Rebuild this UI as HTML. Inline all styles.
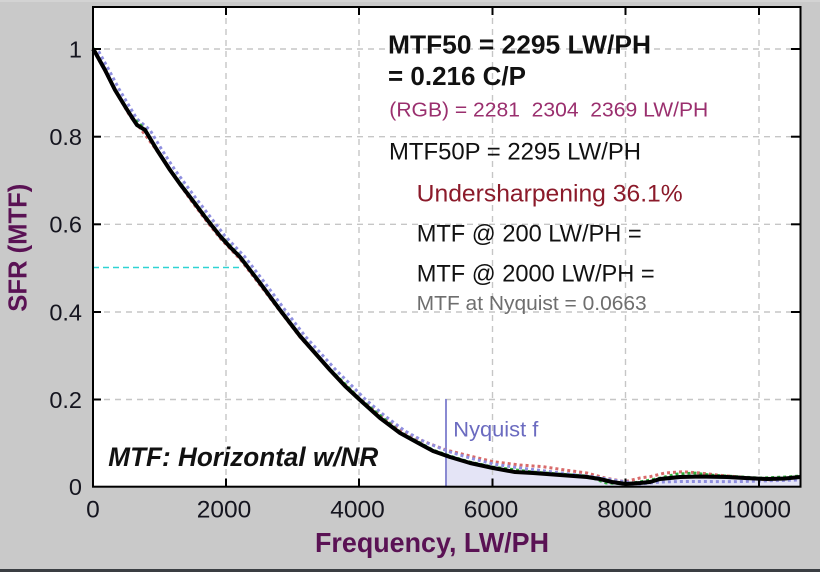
<!DOCTYPE html>
<html>
<head>
<meta charset="utf-8">
<style>
  html, body { margin: 0; padding: 0; }
  body { width: 820px; height: 572px; overflow: hidden; background: #c9c9c9; }
  svg { display: block; }
  text { font-family: "Liberation Sans", Arial, sans-serif; }
</style>
</head>
<body>
<svg width="820" height="572" viewBox="0 0 820 572" xmlns="http://www.w3.org/2000/svg">
  <!-- background -->
  <rect x="0" y="0" width="820" height="572" fill="#c9c9c9"/>
  <rect x="0" y="0" width="820" height="2" fill="#d3d3d3"/>
  <rect x="0" y="569" width="820" height="3" fill="#3a3e42"/>

  <!-- plot area -->
  <rect x="93" y="7" width="707.5" height="479.7" fill="#ffffff"/>

  <!-- shaded region beyond Nyquist -->
  <path d="M446,457 L450,457 L470,463 L493,468 L515,472 L533,473 L560,475 L587,477 L600,479 L612,482 L626,484 L640,483 L650,482 L660,479 L680,477 L700,476.5 L727,477 L745,478 L767,479 L785,478.5 L800,477 L800,486.7 L446,486.7 Z" fill="#e4e4f6"/>

  <!-- grid -->
  <g stroke="#c6c6c6" stroke-width="1.4" stroke-dasharray="6 5" fill="none">
    <line x1="226" y1="7" x2="226" y2="486.7"/>
    <line x1="359" y1="7" x2="359" y2="486.7"/>
    <line x1="492.5" y1="7" x2="492.5" y2="486.7"/>
    <line x1="625.5" y1="7" x2="625.5" y2="486.7"/>
    <line x1="759" y1="7" x2="759" y2="486.7"/>
    <line x1="93" y1="49" x2="800.5" y2="49"/>
    <line x1="93" y1="136.7" x2="800.5" y2="136.7"/>
    <line x1="93" y1="224.3" x2="800.5" y2="224.3"/>
    <line x1="93" y1="312" x2="800.5" y2="312"/>
    <line x1="93" y1="399.5" x2="800.5" y2="399.5"/>
  </g>

  <!-- MTF50 cyan line -->
  <line x1="93" y1="267.5" x2="243" y2="267.5" stroke="#2fd3d3" stroke-width="1.6" stroke-dasharray="6 4"/>

  <!-- Nyquist line -->
  <line x1="446" y1="399" x2="446" y2="486.7" stroke="#8a8ad2" stroke-width="2"/>

  <!-- text blocks -->
  <text x="388" y="53.3" font-size="25.5" font-weight="bold" fill="#111" textLength="263" lengthAdjust="spacingAndGlyphs">MTF50 = 2295 LW/PH</text>
  <text x="388" y="85" font-size="25.5" font-weight="bold" fill="#111" textLength="138" lengthAdjust="spacingAndGlyphs">= 0.216 C/P</text>
  <text x="389.3" y="116.7" font-size="20" fill="#9a2f6e" textLength="319" lengthAdjust="spacingAndGlyphs" style="white-space:pre" xml:space="preserve">(RGB) = 2281  2304  2369 LW/PH</text>
  <text x="389" y="159.3" font-size="24" fill="#111" textLength="252" lengthAdjust="spacingAndGlyphs">MTF50P = 2295 LW/PH</text>
  <text x="416.7" y="201.7" font-size="24" fill="#8b1a2a" textLength="266" lengthAdjust="spacingAndGlyphs">Undersharpening 36.1%</text>
  <text x="416.7" y="241.7" font-size="24" fill="#111" textLength="225" lengthAdjust="spacingAndGlyphs">MTF @ 200 LW/PH =</text>
  <text x="416.7" y="281.7" font-size="24" fill="#111" textLength="238" lengthAdjust="spacingAndGlyphs">MTF @ 2000 LW/PH =</text>
  <text x="416.7" y="310" font-size="20" fill="#6e6e6e" textLength="230" lengthAdjust="spacingAndGlyphs">MTF at Nyquist = 0.0663</text>
  <text x="453.3" y="436.7" font-size="21" fill="#6b6bc0" textLength="85" lengthAdjust="spacingAndGlyphs">Nyquist f</text>
  <text x="108.3" y="466" font-size="26.5" font-weight="bold" font-style="italic" fill="#111" textLength="270" lengthAdjust="spacingAndGlyphs">MTF: Horizontal w/NR</text>

  <!-- curves -->
  <g fill="none" stroke-linejoin="round">
    <!-- red dotted -->
    <path d="M93,49 L105,71 L116,92 L130,116 L140,128 L158,152 L172,173 L190,199 L205,219 L220,238 L240,259 L260,285 L280,311 L300,337 L330,370 L360,399 L380,415 L400,430 L420,440 L446,450 L470,456 L493,461.7 L520,465 L543,466.7 L565,470 L587,473 L605,478 L625,481.7 L640,478 L650,476.7 L665,473 L683,471.7 L700,473 L717,475 L740,477 L767,480 L785,478.5 L797,478" stroke="#d86a6a" stroke-width="3" stroke-dasharray="3 3"/>
    <!-- blue dotted -->
    <path d="M93,49 L99,52 L109,70 L119,89 L137,119 L150,130 L162,150 L175,170 L195,197 L225,236 L245,257 L265,283 L285,310 L305,336 L335,369 L365,399 L385,416 L405,431 L425,442 L450,452 L470,458 L493,464 L520,468 L545,471 L570,474 L595,477 L620,481 L640,484 L660,482 L680,481.5 L700,481.5 L733,481.7 L760,481 L780,480.5 L797,480" stroke="#8f8fe0" stroke-width="3" stroke-dasharray="3 3"/>
    <!-- green dotted -->
    <path d="M93,48 L105,69 L115,89 L126,107 L133,118 L145,129 L157,149 L170,169 L190,196 L220,235 L240,256 L260,282 L280,309 L300,335 L330,369 L360,399 L400,432 L433,450 L450,456 L470,462 L493,467 L533,472 L560,474 L587,476 L606,483 L626,484 L645,481 L660,478 L677,474 L695,473 L710,475 L727,476 L760,478 L785,477 L800,476" stroke="#2fae3a" stroke-width="2.8" stroke-dasharray="3 3"/>
    <!-- black main -->
    <path d="M93,49 L95,52 L105,70 L115,90 L126,108 L133,119 L137,125 L145,130 L157,150 L170,170 L180,184 L190,197 L205,217 L220,236 L230,247 L240,257 L260,283 L280,310 L300,336 L315,353 L330,370 L345,386 L360,400 L380,418 L400,433 L420,444 L433,451 L450,457 L470,463 L493,468 L515,472 L533,473 L560,475 L587,477 L600,479 L612,482 L626,484 L640,483 L650,482 L660,479 L680,477 L700,476.5 L727,477 L745,478 L767,479 L785,478.5 L800,477" stroke="#000" stroke-width="4"/>
  </g>

  <!-- ticks -->
  <g stroke="#000" stroke-width="2">
    <line x1="93" y1="49" x2="101" y2="49"/>
    <line x1="93" y1="136.7" x2="101" y2="136.7"/>
    <line x1="93" y1="224.3" x2="101" y2="224.3"/>
    <line x1="93" y1="312" x2="101" y2="312"/>
    <line x1="93" y1="399.5" x2="101" y2="399.5"/>
    <line x1="791" y1="49" x2="800.5" y2="49"/>
    <line x1="791" y1="136.7" x2="800.5" y2="136.7"/>
    <line x1="791" y1="224.3" x2="800.5" y2="224.3"/>
    <line x1="791" y1="312" x2="800.5" y2="312"/>
    <line x1="791" y1="399.5" x2="800.5" y2="399.5"/>
    <line x1="226" y1="478.5" x2="226" y2="486.7"/>
    <line x1="359" y1="478.5" x2="359" y2="486.7"/>
    <line x1="492.5" y1="478.5" x2="492.5" y2="486.7"/>
    <line x1="625.5" y1="478.5" x2="625.5" y2="486.7"/>
    <line x1="759" y1="478.5" x2="759" y2="486.7"/>
    <line x1="226" y1="7" x2="226" y2="15"/>
    <line x1="359" y1="7" x2="359" y2="15"/>
    <line x1="492.5" y1="7" x2="492.5" y2="15"/>
    <line x1="625.5" y1="7" x2="625.5" y2="15"/>
    <line x1="759" y1="7" x2="759" y2="15"/>
  </g>

  <!-- plot border -->
  <rect x="93" y="7" width="707.5" height="479.7" fill="none" stroke="#000" stroke-width="2"/>

  <!-- y tick labels -->
  <g font-size="23.5" fill="#15151f" text-anchor="end">
    <text x="82" y="57.3">1</text>
    <text x="82" y="145">0.8</text>
    <text x="82" y="232.6">0.6</text>
    <text x="82" y="320.3">0.4</text>
    <text x="82" y="407.8">0.2</text>
    <text x="82" y="495">0</text>
  </g>

  <!-- x tick labels -->
  <g font-size="24.5" fill="#15151f" text-anchor="middle">
    <text x="93" y="517.3">0</text>
    <text x="224" y="517.3">2000</text>
    <text x="357.5" y="517.3">4000</text>
    <text x="491" y="517.3">6000</text>
    <text x="624.5" y="517.3">8000</text>
    <text x="757" y="517.3">10000</text>
  </g>

  <!-- axis labels -->
  <text x="315" y="552" font-size="28" font-weight="bold" fill="#5a1254" textLength="234" lengthAdjust="spacingAndGlyphs">Frequency, LW/PH</text>
  <text transform="translate(26.7,311.7) rotate(-90)" x="0" y="0" font-size="26" font-weight="bold" fill="#5a1254" textLength="128" lengthAdjust="spacingAndGlyphs">SFR (MTF)</text>
</svg>
</body>
</html>
